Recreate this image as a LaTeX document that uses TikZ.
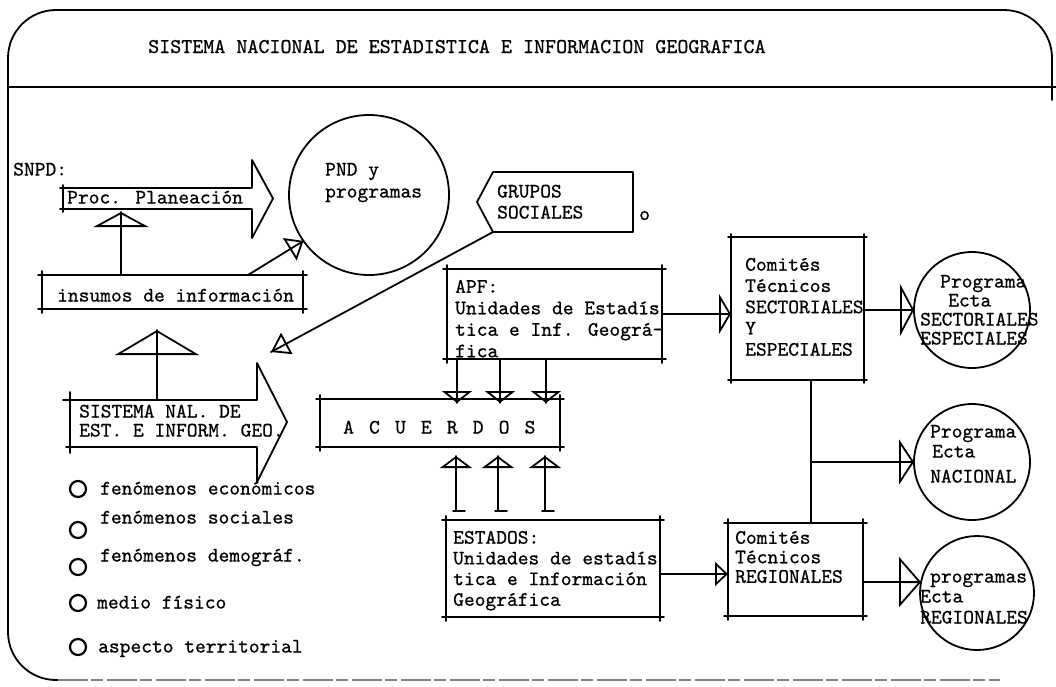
\documentclass[tikz,border=0pt]{standalone}
\usepackage{fontspec}
\usetikzlibrary{arrows.meta,decorations.markings,calc}
\newfontfamily\twf{lmmono10-regular.otf}[FakeBold=0.7]
\newcommand\tfnt{\fontsize{20.5}{21}\selectfont\twf}
\tikzset{
  ln/.style={line width=1.8pt, line cap=round, line join=round},
  bx/.style={inner sep=0pt, outer sep=0pt},
  tx/.style={font=\tfnt, inner sep=0pt, anchor=base west},
  oa/.style n args={2}{postaction={decorate}, decoration={markings,
      mark=at position 1 with {\arrow[line width=1.8pt]{Triangle[open,length=#1,width=#2]}}}},
  bul/.style={circle, draw, line width=2.2pt, minimum size=16pt, inner sep=0pt}
}
\newcommand\mtx[4]{% name, position, baselineskip, text
  \node[font={\fontsize{20.5}{#3}\selectfont\twf}, inner sep=0pt, anchor=north west, align=left] (#1) at (#2) {#4};}
\newcommand\obox[2][4]{%
  \draw[ln,shorten <=-#1pt,shorten >=-#1pt] (#2.north west) -- (#2.north east);
  \draw[ln,shorten <=-#1pt,shorten >=-#1pt] (#2.north east) -- (#2.south east);
  \draw[ln,shorten <=-#1pt,shorten >=-#1pt] (#2.south east) -- (#2.south west);
  \draw[ln,shorten <=-#1pt,shorten >=-#1pt] (#2.south west) -- (#2.north west);}
\begin{document}
\begin{tikzpicture}[x=1pt,y=-1pt]
\useasboundingbox (0,0) rectangle (1056,686);
% frame
\draw[ln, rounded corners=48pt] (1052,100) -- (1052,10) -- (8,10) -- (8,680) -- (62,680);
\draw[line width=1.3pt, black!50, dash pattern=on 30pt off 3pt on 12pt off 4pt] (58,680) -- (1000,680);
\draw[ln] (8,87) -- (1056,87);
\node[tx, font=\fontsize{21}{22}\selectfont\twf] (title) at (148,53) {SISTEMA NACIONAL DE ESTADISTICA E INFORMACION GEOGRAFICA};

% shapes (nodes)
\node[bx, minimum width=189pt, minimum height=21pt] (proc) at (157.5,198.5) {};
\node[bx, minimum width=261pt, minimum height=34pt] (ins) at (172.5,292) {};
\node[bx, circle, draw, line width=1.8pt, minimum size=160pt] (pnd) at (369,195) {};
\node[bx, minimum width=140pt, minimum height=60pt] (gru) at (563,202) {};
\node[bx, minimum width=187pt, minimum height=47pt] (sis) at (163.5,423.5) {};
\node[bx, minimum width=215pt, minimum height=90pt] (apf) at (554.5,314) {};
\node[bx, minimum width=240pt, minimum height=48pt] (acu) at (440,423) {};
\node[bx, minimum width=214pt, minimum height=97pt] (est) at (553,568.5) {};
\node[bx, minimum width=133pt, minimum height=143pt] (sec) at (797.5,308.5) {};
\node[bx, minimum width=135pt, minimum height=93pt] (reg) at (795.5,569.5) {};
\node[bx, circle, draw, line width=1.8pt, minimum size=116pt] (c1) at (972,310) {};
\node[bx, circle, draw, line width=1.8pt, minimum size=116pt] (c2) at (972,462) {};
\node[bx, circle, draw, line width=1.8pt, minimum size=114pt] (c3) at (977,593) {};

% box outlines
\obox{ins}\obox{apf}\obox{acu}\obox{est}\obox[3]{sec}\obox{reg}
% big arrow: Proc. Planeacion
\draw[ln] ([xshift=-3pt]proc.north west) -- (proc.north east) -- ++(0,-28) -- ($(proc.east)+(21,0)$)
  -- ($(proc.south east)+(0,29)$) -- (proc.south east) -- ([xshift=-3pt]proc.south west);
\draw[ln] ([yshift=3pt]proc.north west) -- ([yshift=-3pt]proc.south west);
% big arrow: SISTEMA
\draw[ln] ([xshift=-7pt]sis.north west) -- (sis.north east) -- ++(0,-37) -- ($(sis.east)+(30,-1.5)$)
  -- ($(sis.south east)+(0,35)$) -- (sis.south east) -- ([xshift=-4pt]sis.south west);
\draw[ln] ([yshift=8pt]sis.north west) -- ([yshift=-6pt]sis.south west);
% GRUPOS SOCIALES
\draw[ln] (gru.north east) -- (gru.north west) -- ($(gru.west)+(-16,0)$) -- (gru.south west) -- (gru.south east) -- cycle;

% connectors
\draw[ln, oa={15pt}{55pt}] ($(ins.north west)+(79,0)$) -- ($(proc.south west)+(58,3)$);
\draw[ln, oa={25pt}{84pt}] ($(sis.north west)+(87,0)$) -- ($(ins.south west)+(115,21)$);
\draw[ln, oa={16pt}{26pt}] ($(ins.north west)+(206,0)$) -- (pnd.215);
\coordinate (sisin) at (271,352);
\draw[ln, oa={18pt}{24pt}] (gru.south west) -- (sisin);
\foreach \a/\b in {10/137, 53/180, 99/226}
  \draw[ln, oa={12pt}{30pt}] ($(apf.south west)+(\a,0)$) -- ($(acu.north west)+(\b,4)$);
\foreach \a/\b in {10/136, 52/178, 99/225}{
  \draw[ln, oa={12pt}{32pt}] ($(est.north west)+(\a,-9)$) -- ($(acu.south west)+(\b,9)$);
  \draw[ln] ($(est.north west)+(\a-3,-9)$) -- ($(est.north west)+(\a+9,-9)$);}
\draw[ln, oa={12pt}{40pt}] (apf.east) -- (apf.east -| sec.west);
\draw[ln, oa={14pt}{52pt}] (c1.west -| sec.east) -- (c1.west);
\coordinate (vtop) at ($(sec.south west)+(80,0)$);
\coordinate (vbot) at ($(reg.north west)+(83,0)$);
\draw[ln] (vtop) -- (vbot);
\draw[ln, oa={15pt}{45pt}] (vtop |- c2.west) -- (c2.west);
\coordinate (eout) at ($(est.east)+(0,5.5)$);
\draw[ln, oa={13pt}{24pt}] (eout) -- (eout -| reg.west);
\draw[ln, oa={22pt}{50pt}] ($(reg.east)+(0,12.5)$) -- (c3.169);

% texts
\node[tx] (snpd) at (13,175.5) {SNPD:};
\node[tx] (proct) at (67,203.5) {Proc. Planeación};
\node[tx] (inst) at (57,301.5) {insumos de información};
\node[tx] (pnd1) at (325,175.5) {PND y};
\node[tx] (pnd2) at (325,197.5) {programas};
\node[tx] (gru1) at (497,197.5) {GRUPOS};
\node[tx] (gru2) at (497,218.5) {SOCIALES};
\node[tx] (gruo) at (639,220) {o};
\node[tx] (sis1) at (79,417.5) {SISTEMA NAL. DE};
\node[tx] (sis2) at (79,436.5) {EST. E INFORM. GEO.};
\mtx{apft}{455,277.5}{21.5}{\strut APF:\\\strut Unidades de Estadís\\\strut tica e Inf. Geográ-\\\strut fica}
\node[tx] (acut) at (343,433.5) {A\ \kern4.4pt C\ \kern4.4pt U\ \kern4.4pt E\ \kern4.4pt R\ \kern4.4pt D\ \kern4.4pt O\ \kern4.4pt S};
\mtx{estt}{453,529}{20.7}{\strut ESTADOS:\\\strut Unidades de estadís\\\strut tica e Información\\\strut Geográfica}
\mtx{sect}{745,255.6}{21.25}{\strut Comités\\\strut Técnicos\\\strut SECTORIALES\\\strut Y\\\strut ESPECIALES}
\mtx{regt}{735,529.9}{19.5}{\strut Comités\\\strut Técnicos\\\strut REGIONALES}
\node[tx] (c1a) at (940,287.5) {Programa};
\node[tx] (c1b) at (948,306.5) {Ecta};
\node[tx] (c1c) at (920,325.5) {SECTORIALES};
\node[tx] (c1d) at (920,344.5) {ESPECIALES};
\node[tx] (c2a) at (930,437.5) {Programa};
\node[tx] (c2b) at (932,457.5) {Ecta};
\node[tx] (c2c) at (930,482.5) {NACIONAL};
\node[tx] (c3a) at (930,582.5) {programas};
\node[tx] (c3b) at (920,602.5) {Ecta};
\node[tx] (c3c) at (920,623.5) {REGIONALES};
% bullet list
\node[bul] (b1) at (78,489) {};
\node[bul] (b2) at (78,530) {};
\node[bul] (b3) at (78,567) {};
\node[bul] (b4) at (78,603) {};
\node[bul] (b5) at (78,647) {};
\node[tx] (l1) at (100,494.5) {fenómenos económicos};
\node[tx] (l2) at (100,523.5) {fenómenos sociales};
\node[tx] (l3) at (100,561.5) {fenómenos demográf.};
\node[tx] (l4) at (97,608.5) {medio físico};
\node[tx] (l5) at (98,652.5) {aspecto territorial};
\end{tikzpicture}
\end{document}
